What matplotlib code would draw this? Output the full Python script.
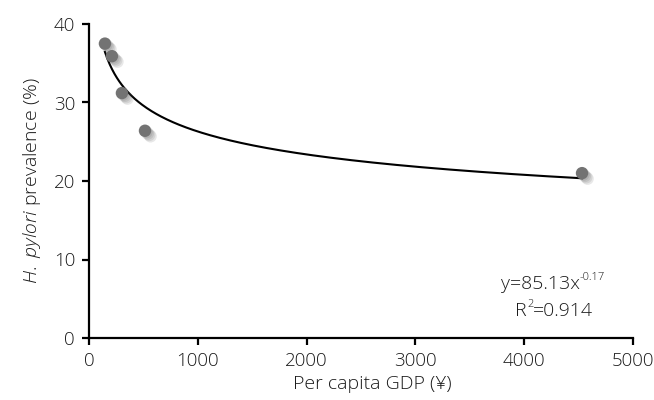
import numpy as np
import matplotlib
matplotlib.use("Agg")
import matplotlib.pyplot as plt
import matplotlib.patheffects as pe

# data
gdp = [147, 211, 303, 515, 4531]
prevalence = [37.5, 35.9, 31.2, 26.4, 21.0]

# trendline as printed on the chart: y = 85.13 x^-0.17
coef_a = 85.13
coef_b = -0.17
r2 = 0.914

plt.rcParams['font.family'] = ['Open Sans', 'DejaVu Sans']
plt.rcParams['font.weight'] = 'light'
plt.rcParams['axes.labelweight'] = 'light'
plt.rcParams['mathtext.fontset'] = 'custom'
plt.rcParams['mathtext.rm'] = 'Open Sans:light'
plt.rcParams['mathtext.it'] = 'Open Sans:italic'
txt = '#1a1a1a'
fs = 14

fig = plt.figure(figsize=(6.54, 4.0), dpi=100)
ax = fig.add_axes([0.136, 0.155, 0.832, 0.785])

xs = np.linspace(min(gdp), max(gdp), 400)
ax.plot(xs, coef_a * xs ** coef_b, color='black', lw=1.5, zorder=2)

# soft drop shadow under the markers
shadow = [pe.SimplePatchShadow(offset=(o, -o), shadow_rgbFace='#444444', alpha=0.12)
          for o in (1, 2, 3, 4)]
shadow.append(pe.Normal())
ax.scatter(gdp, prevalence, s=80, color='#737373', edgecolors='none', zorder=3,
           path_effects=shadow)

ax.set_xlim(0, 5000)
ax.set_ylim(0, 40)
ax.set_xticks([0, 1000, 2000, 3000, 4000, 5000])
ax.set_yticks([0, 10, 20, 30, 40])

for s in ['top', 'right']:
    ax.spines[s].set_visible(False)
for s in ['left', 'bottom']:
    ax.spines[s].set_linewidth(1.6)
ax.tick_params(direction='out', length=5, width=1.6, labelsize=13.5, labelcolor=txt, pad=5)

ax.set_xlabel('Per capita GDP (¥)', fontsize=fs, color=txt, labelpad=4, fontweight='light')
ax.xaxis.label.set_x(0.52)
ax.set_ylabel('$\\mathit{H.\\ pylori}$ prevalence (%)', fontsize=fs, color=txt,
              labelpad=8, fontweight='light')

# trendline equation, small superscripts like the original
t1 = fig.text(0.766, 0.267, 'y=%.2fx' % coef_a, ha='left', va='bottom', fontsize=fs, color=txt)
ax.annotate('-%.2f' % abs(coef_b), xy=(1.0, 0.55), xycoords=t1, ha='left', va='bottom',
            fontsize=8, color=txt)
t2 = fig.text(0.788, 0.201, 'R', ha='left', va='bottom', fontsize=fs, color=txt)
t3 = ax.annotate('2', xy=(1.0, 0.55), xycoords=t2, ha='left', va='bottom',
                 fontsize=8, color=txt)
ax.annotate('=%.3f' % r2, xy=(1.0, 0.0), xycoords=(t3, t2), ha='left', va='bottom',
            fontsize=fs, color=txt)

fig.savefig('out.png', dpi=100, facecolor='white')
